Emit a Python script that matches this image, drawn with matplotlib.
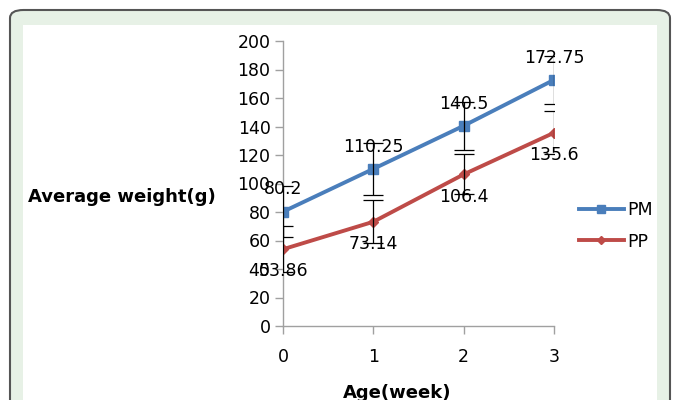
import matplotlib
matplotlib.use("Agg")
import matplotlib.pyplot as plt
from matplotlib.patches import FancyBboxPatch, Rectangle

weeks = [0, 1, 2, 3]
pm_values = [80.2, 110.25, 140.5, 172.75]
pp_values = [53.86, 73.14, 106.4, 135.6]
pm_err = [18, 18, 17, 17]
pp_err = [16, 15, 14, 15]
pm_labels = ["80.2", "110.25", "140.5", "172.75"]
pp_labels = ["53.86", "73.14", "106.4", "135.6"]
y_ticks = [0, 20, 40, 60, 80, 100, 120, 140, 160, 180, 200]

W, H = 675, 400
fig = plt.figure(figsize=(6.75, 4.0), dpi=100)
fig.patch.set_facecolor("white")

# outer rounded frame with light green band
frame = FancyBboxPatch((10 / W, -0.05), 660 / W, (400 - 10) / H + 0.05,
                       boxstyle="round,pad=0,rounding_size=0.02",
                       transform=fig.transFigure, facecolor="#e7f1e6",
                       edgecolor="#555555", linewidth=1.5, zorder=0)
fig.patches.append(frame)
inner = Rectangle((23 / W, -0.05), (657 - 23) / W, (400 - 25) / H + 0.05,
                  transform=fig.transFigure, facecolor="white",
                  edgecolor="none", zorder=0.5)
fig.patches.append(inner)

ax = fig.add_axes([283 / W, 1 - 326 / H, (554 - 283) / W, (326 - 41) / H])
ax.set_facecolor("none")
ax.set_zorder(2)

pm_color = "#4a7ebb"
pp_color = "#be4b48"

ax.plot(weeks, pm_values, color=pm_color, lw=2.8, marker="s", ms=7,
        label="PM", zorder=3)
ax.plot(weeks, pp_values, color=pp_color, lw=2.8, marker="D", ms=5,
        label="PP", zorder=3)
ax.errorbar(weeks, pm_values, yerr=pm_err, fmt="none", ecolor="black",
            elinewidth=0.9, capsize=7, capthick=0.9, zorder=4)
ax.errorbar(weeks, pp_values, yerr=pp_err, fmt="none", ecolor="black",
            elinewidth=0.9, capsize=7, capthick=0.9, zorder=4)

for x, y, t in zip(weeks, pm_values, pm_labels):
    ax.annotate(t, (x, y), xytext=(0, 16), textcoords="offset points",
                ha="center", va="center", fontsize=12.5, zorder=5,
                annotation_clip=False)
for x, y, t in zip(weeks, pp_values, pp_labels):
    ax.annotate(t, (x, y), xytext=(0, -16), textcoords="offset points",
                ha="center", va="center", fontsize=12.5, zorder=5,
                annotation_clip=False)

ax.set_xlim(0, 3)
ax.set_ylim(0, 200)
ax.set_yticks(y_ticks)
ax.set_xticks(weeks)
ax.tick_params(axis="both", colors="#a0a0a0", labelcolor="black",
               labelsize=12.5, length=6, width=1, pad=3)
ax.tick_params(axis="x", pad=10)
for s in ["top", "right"]:
    ax.spines[s].set_visible(False)
for s in ["left", "bottom"]:
    ax.spines[s].set_color("#a0a0a0")
    ax.spines[s].set_linewidth(1)

leg = ax.legend(loc="center left", bbox_to_anchor=(563 / W, 1 - 226 / H),
                bbox_transform=fig.transFigure, frameon=False,
                fontsize=12.5, handlelength=2.6, handletextpad=0.2,
                labelspacing=0.75, markerscale=0.9)

fig.text(28 / W, 1 - 197 / H, "Average weight(g)", fontsize=13,
         fontweight="bold", ha="left", va="center", zorder=3)
fig.text(397 / W, 1 - 393 / H, "Age(week)", fontsize=13,
         fontweight="bold", ha="center", va="center", zorder=3)

fig.savefig("out.png", dpi=100)
